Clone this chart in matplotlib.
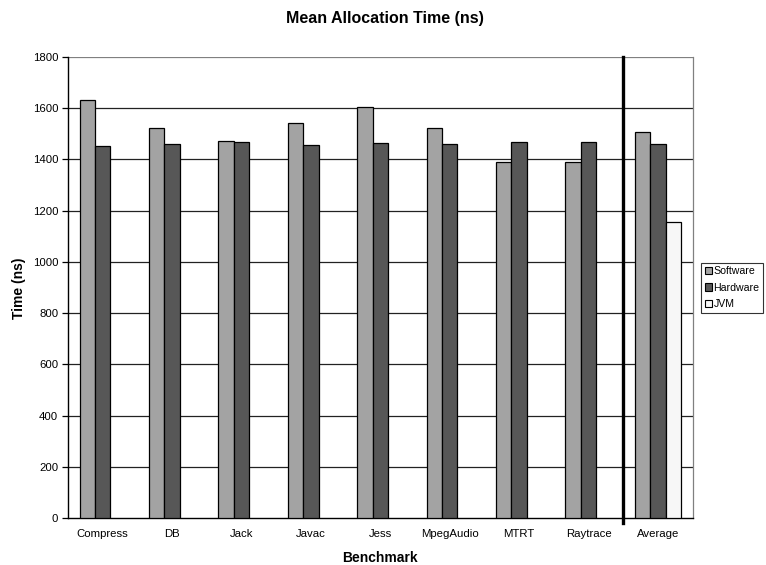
import numpy as np
import matplotlib.pyplot as plt
from matplotlib.patches import Patch

plt.rcParams['font.family'] = ['Liberation Sans', 'DejaVu Sans']

# mittlere Allokationszeit je Benchmark (ns)
benchmarks = ["Compress", "DB", "Jack", "Javac", "Jess", "MpegAudio", "MTRT", "Raytrace", "Average"]
software = [1633, 1523, 1473, 1541, 1605, 1524, 1391, 1389, 1508]
hardware = [1454, 1459, 1467, 1456, 1465, 1459, 1467, 1467, 1460]
jvm = [0, 0, 0, 0, 0, 0, 0, 0, 1155]
yticks = [0, 200, 400, 600, 800, 1000, 1200, 1400, 1600, 1800]

fig = plt.figure(figsize=(7.66, 5.65), dpi=100)
ax = fig.add_axes([0.0888, 0.0832, 0.8155, 0.8159])

x = np.arange(len(benchmarks))
w = 1 / 4.5

# Gitternetz zuerst, Balken darüber
for y in yticks[1:-1]:
    ax.axhline(y, color="#222222", lw=0.9, zorder=1)
ax.axhline(1800, color="#808080", lw=0.9, zorder=1)

ax.bar(x - w, software, w, color="#a3a3a3", edgecolor="black", lw=0.9, zorder=3)
ax.bar(x, hardware, w, color="#575757", edgecolor="black", lw=0.9, zorder=3)
ax.bar(x[-1:] + w, jvm[-1:], w, color="#f7f7f7", edgecolor="black", lw=0.9, zorder=3)

# Trennlinie vor dem Durchschnitt
ax.plot([7.5, 7.5], [-18, 1800], color="black", lw=2.4, clip_on=False, zorder=4)

ax.set_xlim(-0.5, len(benchmarks) - 0.5)
ax.set_ylim(0, 1800)
ax.set_yticks(yticks)
ax.set_xticks(x)
ax.set_xticklabels(benchmarks, fontsize=8.2)
ax.tick_params(axis="x", length=0, pad=8)
ax.tick_params(axis="y", labelsize=8.2, length=4, width=0.9, direction="out", pad=3)

for s in ["left", "bottom"]:
    ax.spines[s].set_color("black")
    ax.spines[s].set_linewidth(1.0)
ax.spines["top"].set_visible(False)
ax.spines["right"].set_color("#808080")
ax.spines["right"].set_linewidth(0.9)

fig.text(0.503, 0.968, "Mean Allocation Time (ns)", ha="center", va="center",
         fontsize=11.5, fontweight="bold")
fig.text(0.496, 0.013, "Benchmark", ha="center", va="center", fontsize=10, fontweight="bold")
fig.text(0.025, 0.49, "Time (ns)", ha="center", va="center", rotation=90,
         fontsize=10, fontweight="bold")

handles = [Patch(facecolor="#a3a3a3", edgecolor="black", lw=0.8, label="Software"),
           Patch(facecolor="#575757", edgecolor="black", lw=0.8, label="Hardware"),
           Patch(facecolor="#f7f7f7", edgecolor="black", lw=0.8, label="JVM")]
leg = fig.legend(handles=handles, loc="upper left", bbox_to_anchor=(0.915, 0.535),
                 fontsize=7.6, frameon=True, fancybox=False, handlelength=0.7,
                 handleheight=0.7, handletextpad=0.15, borderpad=0.35,
                 labelspacing=0.6, borderaxespad=0)
leg.get_frame().set_edgecolor("black")
leg.get_frame().set_linewidth(0.8)

fig.savefig("out.png", dpi=100)
